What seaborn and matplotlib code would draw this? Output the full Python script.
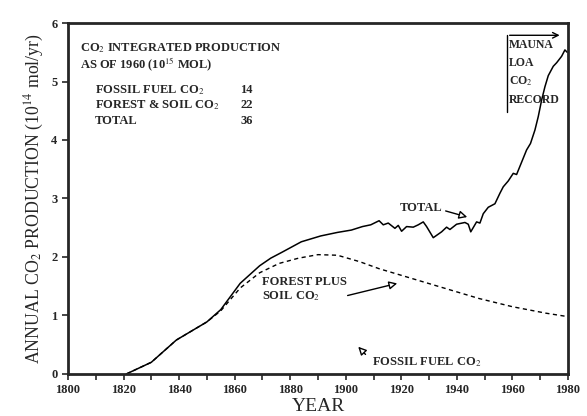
import numpy as np
import pandas as pd
import seaborn as sns
from matplotlib import pyplot as plt

# total annual CO2 production (1e14 mol/yr)
total_years = [1821, 1830, 1839, 1850, 1855, 1862, 1869, 1873, 1877, 1884, 1891,
               1897, 1902, 1906, 1909, 1912, 1913.5, 1915.3, 1917.7, 1918.9, 1920.1,
               1921.9, 1924.3, 1926.1, 1927.9, 1929.1, 1931.5, 1934.5, 1936.3,
               1937.5, 1939.9, 1942.9, 1944.1, 1945, 1947.1, 1948.3, 1949.5,
               1951.3, 1953.7, 1955.5, 1956.7, 1958.5, 1960.3, 1961.5, 1963.3,
               1965.1, 1966.5, 1968.1, 1969.3, 1970.5, 1971.7, 1972.9, 1974.7,
               1975.9, 1977.7, 1978.9, 1979.7]
total_vals = [0.0, 0.2, 0.58, 0.89, 1.1, 1.55, 1.85, 1.98, 2.08, 2.26, 2.36,
              2.42, 2.46, 2.52, 2.55, 2.62, 2.55, 2.58, 2.49, 2.54, 2.44,
              2.52, 2.51, 2.55, 2.6, 2.52, 2.33, 2.43, 2.51,
              2.47, 2.56, 2.59, 2.56, 2.43, 2.6, 2.58, 2.74,
              2.85, 2.91, 3.09, 3.2, 3.3, 3.43, 3.41, 3.62,
              3.83, 3.94, 4.17, 4.4, 4.68, 4.91, 5.1, 5.26,
              5.32, 5.43, 5.54, 5.5]

# forest plus soil CO2
forest_years = [1821, 1830, 1839, 1850, 1855, 1862, 1869, 1876, 1883, 1890,
                1897, 1905, 1912, 1924, 1936, 1948, 1960, 1972, 1980]
forest_vals = [0.0, 0.2, 0.58, 0.89, 1.08, 1.47, 1.73, 1.89, 1.98, 2.04,
               2.03, 1.92, 1.8, 1.63, 1.46, 1.29, 1.15, 1.04, 0.98]

x_ticks = list(range(1800, 1981, 20))
y_ticks = list(range(0, 7))

total_df = pd.DataFrame({'year': total_years, 'val': total_vals})
forest_df = pd.DataFrame({'year': forest_years, 'val': forest_vals})

sns.set_style('ticks')
plt.rcParams['font.family'] = ['Liberation Serif', 'DejaVu Serif']
plt.rcParams['mathtext.fontset'] = 'stix'

fig = plt.figure(figsize=(5.87, 4.16), dpi=100)
ax = fig.add_axes([0.1158, 0.101, 0.8518, 0.8437])

sns.lineplot(data=total_df, x='year', y='val', ax=ax, color='black', lw=1.1)
sns.lineplot(data=forest_df, x='year', y='val', ax=ax, color='black', lw=1.0,
             linestyle=(0, (3, 2.5)))

ax.set_xlim(1800, 1980)
ax.set_ylim(0, 6)
ax.set_xticks(x_ticks)
ax.set_xticks(range(1800, 1981, 10), minor=True)
ax.set_yticks(y_ticks)
ax.tick_params(labelsize=9, width=1.2, length=4)
ax.tick_params(which='minor', width=1.2, length=4)
for lab in ax.get_xticklabels() + ax.get_yticklabels():
    lab.set_fontweight('bold')
for s in ax.spines.values():
    s.set_visible(True)
    s.set_linewidth(2)

ax.set_xlabel('YEAR', fontsize=14, labelpad=1)
ax.set_ylabel('ANNUAL CO$_2$ PRODUCTION (10$^{14}$ mol/yr)', fontsize=12.8, labelpad=4)

tkw = dict(fontsize=9, fontweight='bold', va='center')
ax.text(1804.3, 5.57, 'CO$_2$ INTEGRATED PRODUCTION', **tkw)
ax.text(1804.3, 5.28, 'AS OF 1960 (10$^{15}$ MOL)', **tkw)
ax.text(1809.7, 4.85, 'FOSSIL FUEL CO$_2$', **tkw)
ax.text(1809.7, 4.59, 'FOREST & SOIL CO$_2$', **tkw)
ax.text(1809.7, 4.33, 'TOTAL', **tkw)
ax.text(1862, 4.85, '14', **tkw)
ax.text(1862, 4.59, '22', **tkw)
ax.text(1862, 4.33, '36', **tkw)

ax.text(1919.5, 2.84, 'TOTAL', **tkw)
ax.annotate('', xy=(1944.7, 2.67), xytext=(1935, 2.8),
            arrowprops=dict(arrowstyle='-|>', color='black', lw=1, fc='white',
                            mutation_scale=12))
ax.text(1870, 1.57, 'FOREST PLUS', **tkw)
ax.text(1870, 1.33, 'SOIL CO$_2$', **tkw)
ax.annotate('', xy=(1919.5, 1.56), xytext=(1899.7, 1.33),
            arrowprops=dict(arrowstyle='-|>', color='black', lw=1, fc='white',
                            mutation_scale=12))
ax.text(1909.4, 0.2, 'FOSSIL FUEL CO$_2$', **tkw)
ax.annotate('', xy=(1903.8, 0.5), xytext=(1907.8, 0.3),
            arrowprops=dict(arrowstyle='-|>', color='black', lw=1, fc='white',
                            mutation_scale=12))

ax.plot([1958, 1958], [4.48, 5.79], color='black', lw=1)
ax.annotate('', xy=(1978, 5.79), xytext=(1958, 5.79),
            arrowprops=dict(arrowstyle='->', color='black', lw=1))
for i, w in enumerate(['MAUNA', 'LOA', 'CO$_2$', 'RECORD']):
    ax.text(1958.6, 5.62 - i * 0.31, w, fontsize=8.5, fontweight='bold',
            va='center')

fig.savefig('out.png', dpi=100)
